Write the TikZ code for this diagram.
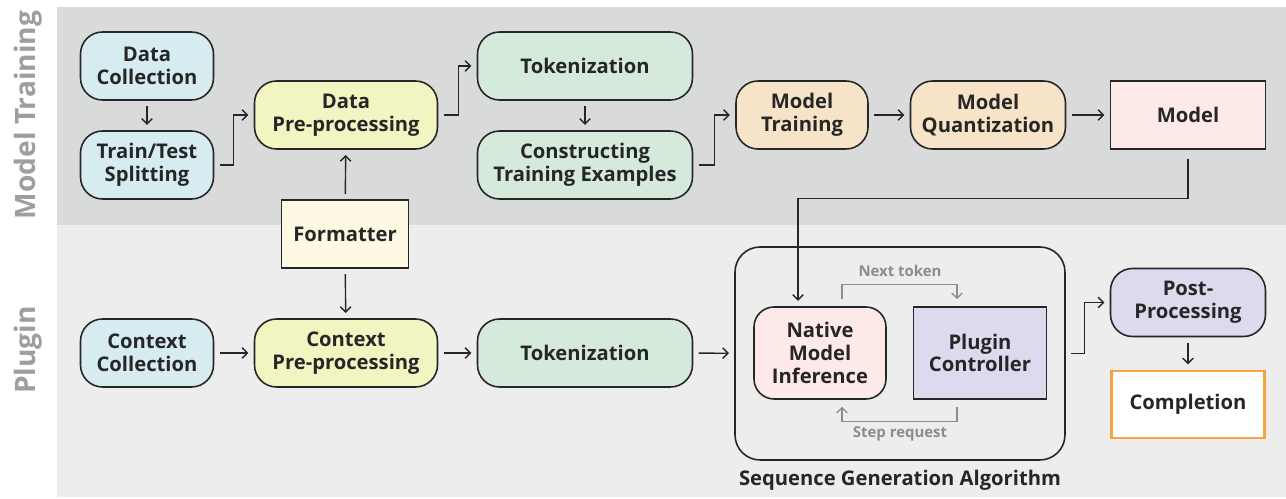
\documentclass[tikz,border=0pt]{standalone}
\usepackage{fontspec}
\setmainfont{Open Sans}
\usepackage{tikz}
\usetikzlibrary{arrows.meta}
\usetikzlibrary{calc}

\definecolor{bandtop}{HTML}{D9DADA}
\definecolor{bandbot}{HTML}{ECEDEC}
\definecolor{sidecol}{HTML}{9E9E9E}
\definecolor{linecol}{HTML}{262626}
\definecolor{loopcol}{HTML}{8C8C8C}
\definecolor{c-blue}{HTML}{D6ECF1}
\definecolor{c-yellow}{HTML}{F2F4C2}
\definecolor{c-cream}{HTML}{FEF9E2}
\definecolor{c-green}{HTML}{D6EADC}
\definecolor{c-tan}{HTML}{F6E3C8}
\definecolor{c-pink}{HTML}{FDE9E8}
\definecolor{c-lav}{HTML}{DCDBEE}
\definecolor{c-orange}{HTML}{F5A540}

\begin{document}
\begin{tikzpicture}[x=0.02cm,y=-0.02cm]
        \tikzset{>={Straight Barb[length=3pt,width=6pt]}}
        \tikzstyle{box}=[draw=linecol,line width=0.9pt,text=linecol,align=center,font=\fontsize{11.5}{13}\selectfont\bfseries,minimum height=1.36cm,inner sep=2pt]
        \tikzstyle{pill}=[box,rounded corners=0.44cm]
        \tikzstyle{link}=[->,draw=linecol,line width=0.8pt,shorten <=3pt,shorten >=3pt]
        \tikzstyle{loop}=[->,draw=loopcol,line width=0.75pt,shorten <=4pt,shorten >=4pt]
        \tikzstyle{looplbl}=[text=loopcol,font=\fontsize{8.5}{10}\selectfont\bfseries,inner sep=1pt]
        \tikzstyle{side}=[rotate=90,text=sidecol,font=\fontsize{16}{18}\selectfont\bfseries]

        \useasboundingbox (0,0) rectangle (1286,499);
        \fill [bandtop] (57,7) rectangle (1286,225);
        \fill [bandbot] (57,225) rectangle (1286,497);
        \node [side] (lbltrain) at (28,115) {Model Training};
        \node [side] (lblplugin) at (28,350) {Plugin};

        % model training row
        \node [pill,fill=c-blue,minimum width=2.66cm] (dcoll) at (147,66) {Data\\Collection};
        \node [pill,fill=c-blue,minimum width=2.66cm] (split) at (147,165) {Train/Test\\Splitting};
        \node [pill,fill=c-yellow,minimum width=3.66cm] (dpre) at (346,115) {Data\\Pre-processing};
        \node [box,fill=c-cream,minimum width=2.54cm] (fmt) at (345,234) {Formatter};
        \node [pill,fill=c-green,minimum width=4.3cm] (tok) at (585,66) {Tokenization};
        \node [pill,fill=c-green,minimum width=4.3cm] (cons) at (585,165) {Constructing\\Training Examples};
        \node [pill,fill=c-tan,minimum width=2.64cm] (mtrain) at (802,115) {Model\\Training};
        \node [pill,fill=c-tan,minimum width=3.1cm] (mquant) at (988,115) {Model\\Quantization};
        \node [box,fill=c-pink,minimum width=3.1cm] (model) at (1188,115) {Model};

        % plugin row
        \node [pill,fill=c-blue,minimum width=2.66cm] (ccoll) at (147,353) {Context\\Collection};
        \node [pill,fill=c-yellow,minimum width=3.66cm] (cpre) at (346,353) {Context\\Pre-processing};
        \node [pill,fill=c-green,minimum width=4.3cm] (tok2) at (585,353) {Tokenization};
        \node [box,rounded corners=0.5cm,minimum width=6.6cm,minimum height=4.26cm] (seqalg) at (900,353.5) {};
        \node [text=linecol,font=\fontsize{11.5}{13}\selectfont\bfseries] (seqlbl) at (900,480) {Sequence Generation Algorithm};
        \node [box,rounded corners=0.4cm,fill=c-pink,minimum width=2.64cm,minimum height=1.84cm] (native) at (820,353) {Native\\Model\\Inference};
        \node [box,fill=c-lav,minimum width=2.66cm,minimum height=1.84cm] (ctrl) at (980,353) {Plugin\\Controller};
        \node [pill,fill=c-lav,minimum width=3.1cm] (post) at (1188,302.5) {Post-\\Processing};
        \node [box,draw=c-orange,line width=1.6pt,fill=white,minimum width=3.06cm,minimum height=1.34cm] (compl) at (1188,404.5) {Completion};
        \node [looplbl] (nexttok) at (900,271) {Next token};
        \node [looplbl] (stepreq) at (900,434) {Step request};

        % connectors
        \draw [link] (dcoll) -- (split);
        \draw [link] (split.east) -- ++(19,0) |- (dpre.west);
        \draw [link] (fmt) -- (dpre);
        \draw [link] (fmt) -- (cpre);
        \draw [link] (dpre.east) -- ++(20,0) |- (tok.west);
        \draw [link] (tok) -- (cons);
        \draw [link] (cons.east) -- ++(21,0) |- (mtrain.west);
        \draw [link] (mtrain) -- (mquant);
        \draw [link] (mquant) -- (model);
        \draw [link,shorten <=5pt] (model.south) -- ++(0,49) -| ($(native.north)+(-22,0)$);
        \draw [link] (ccoll) -- (cpre);
        \draw [link] (cpre) -- (tok2);
        \draw [link] (tok2) -- (seqalg);
        \draw [link] (seqalg.east) -- ++(19,0) |- (post.west);
        \draw [link] (post) -- (compl);
        \draw [loop] ($(native.north)+(22,0)$) -- ++(0,-22) -| ($(ctrl.north)+(-23,0)$);
        \draw [loop] ($(ctrl.south)+(-23,0)$) -- ++(0,22) -| ($(native.south)+(22,0)$);
\end{tikzpicture}
\end{document}
